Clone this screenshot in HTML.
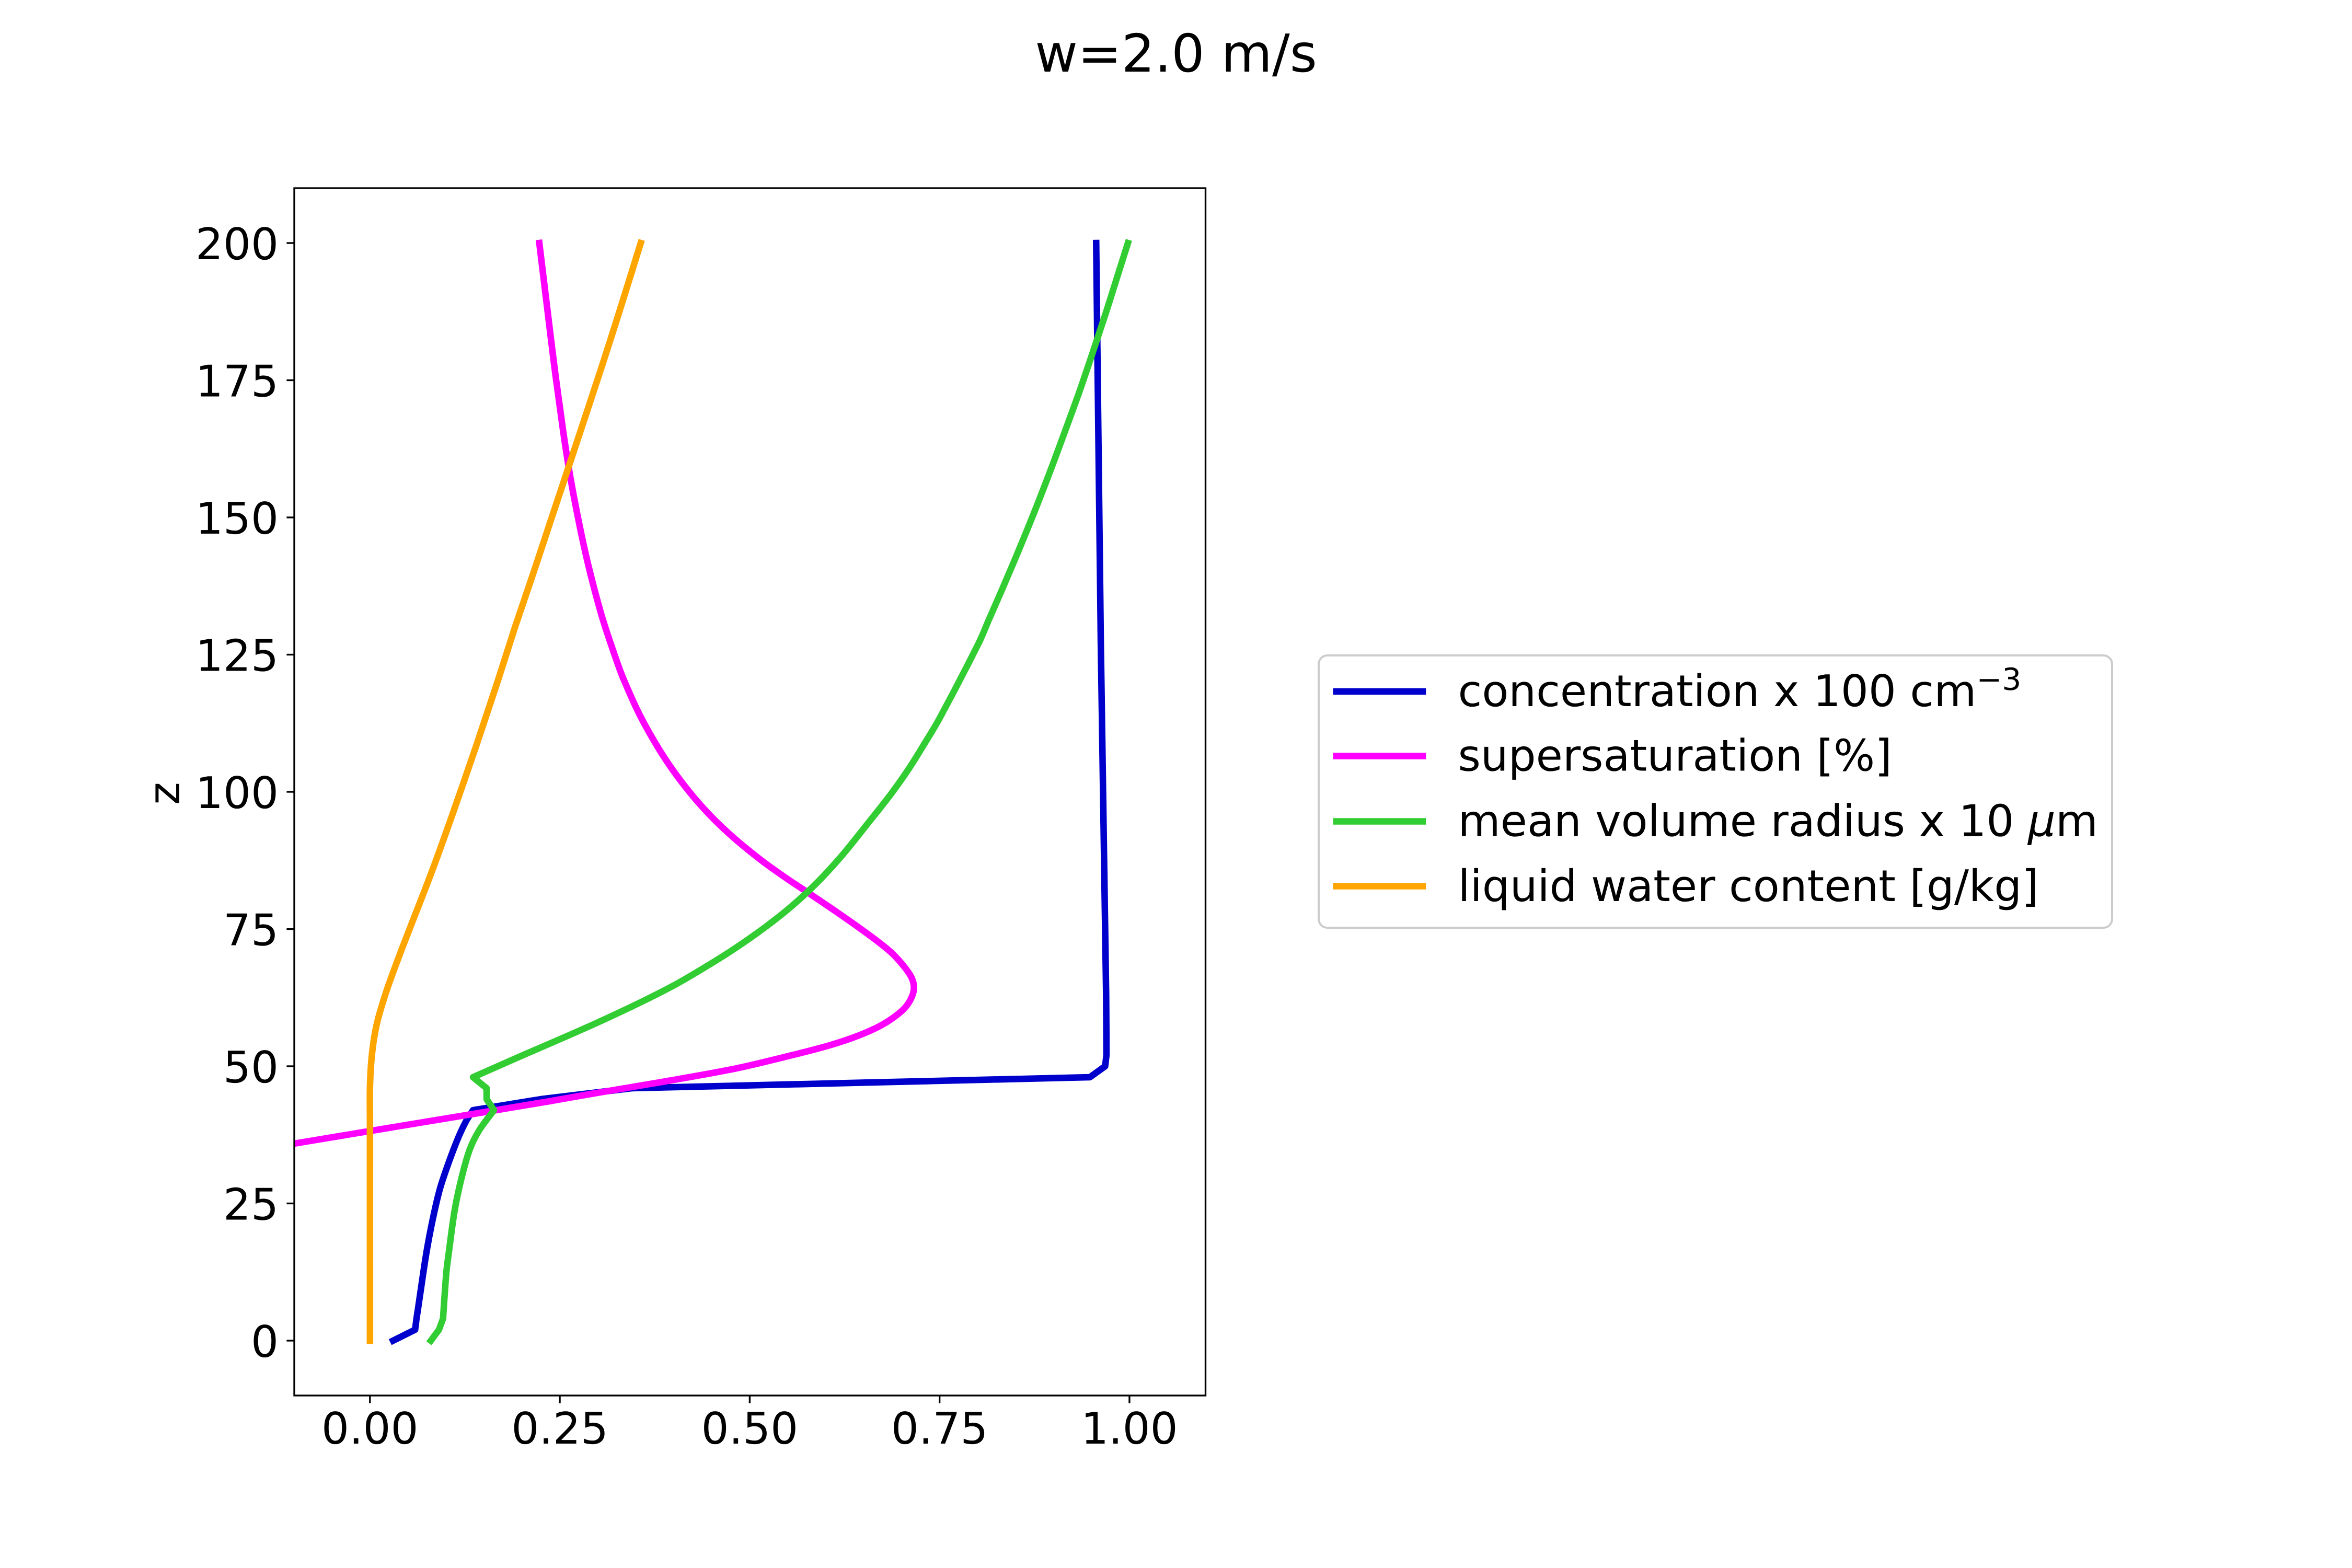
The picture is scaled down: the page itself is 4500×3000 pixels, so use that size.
<!DOCTYPE html>
<html lang="en">
<head>
<meta charset="utf-8">
<title>w=2.0 m/s</title>
<style>
html,body{margin:0;padding:0;background:#fff;}
svg{display:block;}
text{font-family:"DejaVu Sans","Liberation Sans",sans-serif;fill:#000;text-rendering:geometricPrecision;}
</style>
</head>
<body>
<svg id="chart" xmlns="http://www.w3.org/2000/svg" width="4500" height="3000" viewBox="0 0 4500 3000">
  <defs>
    <clipPath id="plot-clip"><rect x="562.5" y="360" width="1743.75" height="2310"/></clipPath>
  </defs>
  <rect x="0" y="0" width="4500" height="3000" fill="#ffffff"/>
  <text x="2250" y="137" font-size="100" text-anchor="middle">w=2.0 m/s</text>
  <g id="series-layer" clip-path="url(#plot-clip)"></g>
  <rect x="563" y="360" width="1743.5" height="2310" fill="none" stroke="#000" stroke-width="3.33"/>
  <g id="tick-layer"></g>
  <text transform="translate(343 1518) rotate(-90)" font-size="83.33" text-anchor="middle">z</text>

  <g>
    <rect x="2523" y="1254" width="1518" height="521" rx="16.7" ry="16.7" fill="#fff" stroke="#cccccc" stroke-width="4"/>
    <line x1="2556.7" x2="2722" y1="1323" y2="1323" stroke="#0000CD" stroke-width="12.5" stroke-linecap="square"/>
    <line x1="2556.7" x2="2722" y1="1446.5" y2="1446.5" stroke="#FF00FF" stroke-width="12.5" stroke-linecap="square"/>
    <line x1="2556.7" x2="2722" y1="1571.5" y2="1571.5" stroke="#32CD32" stroke-width="12.5" stroke-linecap="square"/>
    <line x1="2556.7" x2="2722" y1="1695.5" y2="1695.5" stroke="#FFA500" stroke-width="12.5" stroke-linecap="square"/>
    <text x="2789.5" y="1351" font-size="83.33">concentration x 100 cm<tspan font-size="58.33" dy="-31">−3</tspan></text>
    <text x="2789.5" y="1474.5" font-size="83.33">supersaturation [%]</text>
    <text x="2789.5" y="1599.5" font-size="83.33">mean volume radius x 10 <tspan font-style="italic">μ</tspan>m</text>
    <text x="2789.5" y="1724" font-size="83.33">liquid water content [g/kg]</text>
  </g>
</svg>
<script>
// Axis ranges and tick labels
var xDomain = [-0.1, 1.1];
var yDomain = [-10, 210];
var xTickLabels = ['0.00', '0.25', '0.50', '0.75', '1.00'];
var yTickLabels = ['0', '25', '50', '75', '100', '125', '150', '175', '200'];

// concentration x 100 cm^-3
var concentrationZ = [0, 2, 4, 6, 8, 16, 22, 27.5, 32, 37, 40, 42, 44, 46, 48, 50, 52, 63, 127, 200];
var concentrationValues = [0.0305, 0.0595, 0.0613, 0.0635, 0.0656, 0.0743, 0.0825, 0.0918, 0.1025, 0.1163, 0.1266, 0.1357, 0.225, 0.345, 0.9479, 0.968, 0.9697, 0.9693, 0.9623, 0.9562];
var concentrationCorners = [2, 42, 44, 46, 48, 50, 52];

// supersaturation [%]
var supersaturationZ = [30, 35.9, 37.2, 38.2, 41.9, 43.6, 44.9, 47.2, 49.6, 51.9, 53.8, 55.6, 57.6, 60, 61.9, 64, 66, 68.2, 70.9, 74.3, 78.2, 81.8, 84, 87.4, 92.3, 97.1, 102.5, 107.8, 114.2, 120.5, 124, 131.7, 139.9, 147, 156.9, 165.6, 176, 188.6, 200];
var supersaturationValues = [-0.357, -0.1, -0.0435, 0, 0.1619, 0.2355, 0.2888, 0.3871, 0.482, 0.5522, 0.6048, 0.6435, 0.675, 0.6996, 0.7108, 0.7161, 0.7136, 0.7031, 0.685, 0.6535, 0.6135, 0.575, 0.551, 0.5165, 0.4735, 0.4385, 0.4065, 0.3805, 0.3545, 0.334, 0.3245, 0.306, 0.29, 0.2783, 0.2644, 0.2545, 0.2442, 0.233, 0.223];
var supersaturationCorners = [];

// mean volume radius x 10 um
var radiusZ = [0, 2, 4, 12.3, 15.7, 23.7, 29.7, 34.8, 38.3, 42, 44, 46, 48, 52, 55.1, 58.3, 61.9, 65.1, 68.7, 71.6, 75.3, 78.9, 83.3, 88.4, 94.5, 99.6, 104, 108.3, 113.4, 127.1, 131.4, 136.3, 141.9, 147.7, 153.8, 160.1, 166.4, 173.2, 180, 187.3, 194.1, 200];
var radiusValues = [0.0802, 0.0909, 0.0962, 0.1005, 0.1035, 0.1115, 0.1207, 0.1313, 0.1437, 0.1633, 0.1536, 0.1536, 0.1357, 0.2012, 0.253, 0.305, 0.36, 0.405, 0.449, 0.482, 0.52, 0.553, 0.5876, 0.6215, 0.657, 0.686, 0.7085, 0.728, 0.75, 0.8015, 0.815, 0.8305, 0.8478, 0.8652, 0.8828, 0.9002, 0.917, 0.9348, 0.9515, 0.969, 0.9845, 0.998];
var radiusCorners = [2, 4, 42, 44, 46, 48];

// liquid water content [g/kg]
var lwcZ = [0, 40, 46.7, 52.5, 57.8, 63.6, 69.9, 76.3, 82.1, 87.9, 94.7, 101.5, 108.3, 113.7, 120.5, 130.1, 139.4, 149.2, 159.6, 177.6, 188, 200];
var lwcValues = [0, 0, 0.0001, 0.0029, 0.0092, 0.0215, 0.038, 0.0558, 0.0722, 0.088, 0.1056, 0.1228, 0.1397, 0.1527, 0.169, 0.1912, 0.214, 0.2375, 0.2625, 0.3055, 0.3295, 0.3565];
var lwcCorners = [];

var SVG_NS = 'http://www.w3.org/2000/svg';
var plotLeft = 562.5, plotWidth = 1743.75, plotTop = 360, plotHeight = 2310;

function xScale(v) {
  return plotLeft + (v - xDomain[0]) / (xDomain[1] - xDomain[0]) * plotWidth;
}
function yScale(z) {
  return plotTop + plotHeight - (z - yDomain[0]) / (yDomain[1] - yDomain[0]) * plotHeight;
}

// Smooth curve through the given screen points, chord-length parameterised.
function smoothRun(pts) {
  var d = '';
  function chord(a, b) {
    return Math.max(Math.hypot(b[0] - a[0], b[1] - a[1]), 0.001);
  }
  function tangent(i) {
    var a = pts[Math.max(i - 1, 0)], b = pts[Math.min(i + 1, pts.length - 1)];
    var t = 0;
    for (var k = Math.max(i - 1, 0); k < Math.min(i + 1, pts.length - 1); k++) {
      t += chord(pts[k], pts[k + 1]);
    }
    return [(b[0] - a[0]) / t, (b[1] - a[1]) / t];
  }
  for (var i = 0; i < pts.length - 1; i++) {
    var h = chord(pts[i], pts[i + 1]) / 3;
    var m0 = tangent(i), m1 = tangent(i + 1);
    d += 'C' + (pts[i][0] + m0[0] * h).toFixed(2) + ' ' + (pts[i][1] + m0[1] * h).toFixed(2) + ' ' +
      (pts[i + 1][0] - m1[0] * h).toFixed(2) + ' ' + (pts[i + 1][1] - m1[1] * h).toFixed(2) + ' ' +
      pts[i + 1][0].toFixed(2) + ' ' + pts[i + 1][1].toFixed(2);
  }
  return d;
}

function linePath(zs, vs, corners) {
  var pts = [];
  for (var i = 0; i < zs.length; i++) {
    pts.push([xScale(vs[i]), yScale(zs[i])]);
  }
  var d = 'M' + pts[0][0].toFixed(2) + ' ' + pts[0][1].toFixed(2);
  var run = [pts[0]];
  for (var j = 1; j < pts.length; j++) {
    run.push(pts[j]);
    if (corners.indexOf(zs[j]) !== -1 || j === pts.length - 1) {
      d += smoothRun(run);
      run = [pts[j]];
    }
  }
  return d;
}

function drawSeries(zs, vs, corners, color, name) {
  var el = document.createElementNS(SVG_NS, 'path');
  
  
  el.setAttribute('d', linePath(zs, vs, corners));
  el.setAttribute('fill', 'none');
  el.setAttribute('stroke', color);
  el.setAttribute('stroke-width', '12.5');
  el.setAttribute('stroke-linecap', 'square');
  el.setAttribute('stroke-linejoin', 'round');
  document.getElementById('series-layer').appendChild(el);
}

drawSeries(concentrationZ, concentrationValues, concentrationCorners, '#0000CD', 'concentration-line');
drawSeries(supersaturationZ, supersaturationValues, supersaturationCorners, '#FF00FF', 'supersaturation-line');
drawSeries(radiusZ, radiusValues, radiusCorners, '#32CD32', 'mean-volume-radius-line');
drawSeries(lwcZ, lwcValues, lwcCorners, '#FFA500', 'liquid-water-content-line');

var tickLayer = document.getElementById('tick-layer');
var tickLength = 14.6;

xTickLabels.forEach(function (label) {
  var x = xScale(parseFloat(label));
  var mark = document.createElementNS(SVG_NS, 'line');
  
  
  mark.setAttribute('x1', x);
  mark.setAttribute('x2', x);
  mark.setAttribute('y1', plotTop + plotHeight);
  mark.setAttribute('y2', plotTop + plotHeight + tickLength);
  mark.setAttribute('stroke', '#000');
  mark.setAttribute('stroke-width', '3.33');
  tickLayer.appendChild(mark);
  var text = document.createElementNS(SVG_NS, 'text');
  
  
  text.setAttribute('x', x);
  text.setAttribute('y', 2762);
  text.setAttribute('font-size', '83.33');
  text.setAttribute('text-anchor', 'middle');
  text.textContent = label;
  tickLayer.appendChild(text);
});

yTickLabels.forEach(function (label) {
  var y = yScale(parseFloat(label));
  var mark = document.createElementNS(SVG_NS, 'line');
  
  
  mark.setAttribute('x1', 563 - tickLength);
  mark.setAttribute('x2', 563);
  mark.setAttribute('y1', y);
  mark.setAttribute('y2', y);
  mark.setAttribute('stroke', '#000');
  mark.setAttribute('stroke-width', '3.33');
  tickLayer.appendChild(mark);
  var text = document.createElementNS(SVG_NS, 'text');
  
  
  text.setAttribute('x', 533);
  text.setAttribute('y', y + 31);
  text.setAttribute('font-size', '83.33');
  text.setAttribute('text-anchor', 'end');
  text.textContent = label;
  tickLayer.appendChild(text);
});
</script>
</body>
</html>
